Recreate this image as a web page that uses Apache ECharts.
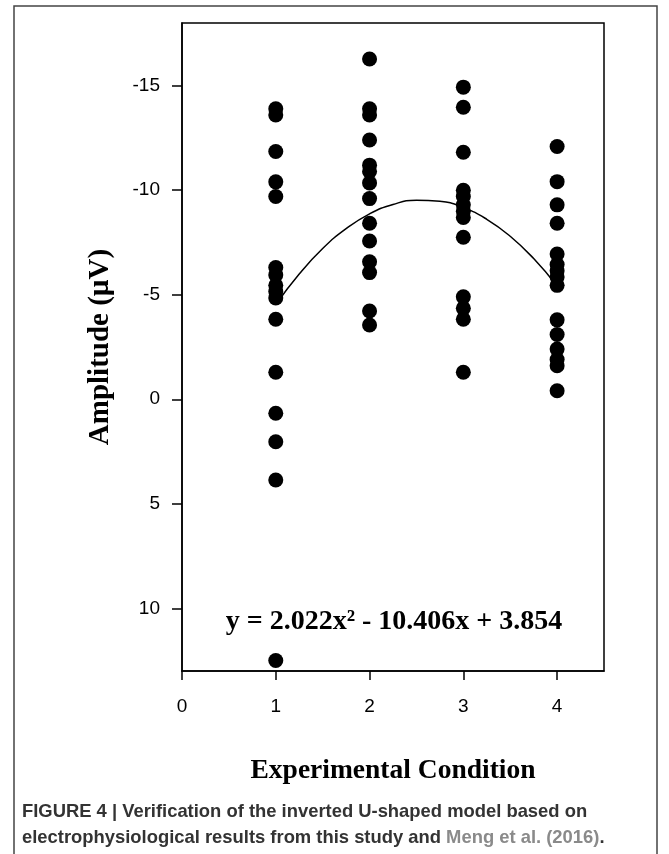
<!DOCTYPE html>
<html><head><meta charset="utf-8">
<script src="https://cdn.jsdelivr.net/npm/echarts@6/dist/echarts.min.js"></script>
<style>html,body{margin:0;padding:0;background:#fff}#c{width:669px;height:854px}</style>
</head><body><div id="c"></div>
<script>
// Experimental conditions (x positions)
const conditions = [1, 2, 3, 4];
// Amplitude values (µV) read per condition
const cond1 = [-13.9, -13.6, -11.85, -10.4, -9.7, -6.3, -5.95, -5.45, -5.15, -4.85, -3.83, -1.29, 0.67, 2.03, 3.86, 12.5];
const cond2 = [-16.28, -13.9, -13.6, -12.4, -11.2, -10.9, -10.35, -9.6, -8.42, -7.57, -6.58, -6.06, -4.22, -3.55];
const cond3 = [-14.93, -13.97, -11.82, -10.0, -9.7, -9.3, -9.0, -8.7, -7.75, -4.9, -4.35, -3.83, -1.29];
const cond4 = [-12.09, -10.41, -9.3, -8.42, -6.95, -6.45, -6.15, -5.85, -5.45, -3.8, -3.1, -2.4, -1.9, -1.6, -0.41];
// Fitted curve points
const fitX = [1, 1.25, 1.5, 1.75, 2, 2.25, 2.5, 2.75, 3, 3.25, 3.5, 3.75, 4];
const fitY = [-4.53, -5.99, -7.21, -8.16, -8.87, -9.32, -9.52, -9.47, -9.17, -8.61, -7.80, -6.73, -5.42];
// Tick labels
const yTicks = [-15, -10, -5, 0, 5, 10];
const xTicks = [0, 1, 2, 3, 4];
const equationText = 'y = 2.022x\u00B2 - 10.406x + 3.854';

const allConds = [cond1, cond2, cond3, cond4];
const scatterData = [];
allConds.forEach((arr, i) => arr.forEach(v => scatterData.push([conditions[i], v])));
const fitData = fitX.map((x, i) => [x, fitY[i]]);

const chart = echarts.init(document.getElementById('c'), null, {renderer: 'canvas'});
const serif = "'Liberation Serif', 'Times New Roman', serif";
const sans = "'Liberation Sans', Arial, sans-serif";
chart.setOption({
  backgroundColor: '#fff',
  animation: false,
  grid: {left: 182, top: 23, width: 422, height: 648, show: true, borderColor: '#000', borderWidth: 1.5, backgroundColor: 'transparent'},
  xAxis: {
    type: 'value', min: 0, max: 4.5,
    name: 'Experimental Condition', nameLocation: 'middle', nameGap: 86,
    nameTextStyle: {fontFamily: serif, fontWeight: 'bold', fontSize: 27.5, color: '#000'},
    axisLine: {show: true, onZero: false, lineStyle: {color: '#000', width: 1.5}},
    axisTick: {show: true, customValues: xTicks, length: 9, lineStyle: {color: '#000', width: 1.5}},
    axisLabel: {customValues: xTicks, margin: 26, fontFamily: sans, fontSize: 19, color: '#000'},
    splitLine: {show: false}
  },
  yAxis: {
    type: 'value', min: -18, max: 13, inverse: true,
    name: 'Amplitude (\u00B5V)', nameLocation: 'middle', nameGap: 67,
    nameTextStyle: {fontFamily: serif, fontWeight: 'bold', fontSize: 29, color: '#000'},
    axisLine: {show: true, onZero: false, lineStyle: {color: '#000', width: 1.5}},
    axisTick: {show: true, customValues: yTicks, length: 10, lineStyle: {color: '#000', width: 1.5}},
    axisLabel: {customValues: yTicks, margin: 22, fontFamily: sans, fontSize: 19, color: '#000'},
    splitLine: {show: false}
  },
  series: [
    {type: 'line', data: fitData, smooth: true, symbol: 'none', lineStyle: {color: '#000', width: 1.5}, z: 2},
    {type: 'scatter', data: scatterData, symbol: 'circle', symbolSize: 15, itemStyle: {color: '#000', opacity: 1}, z: 3}
  ],
  graphic: [
    {type: 'rect', shape: {x: 14, y: 6, width: 643, height: 870}, style: {fill: 'none', stroke: '#444', lineWidth: 1.5}, silent: true},
    {type: 'text', x: 394, y: 622, style: {text: equationText, font: "bold 28px 'Liberation Serif', serif", fill: '#000', textAlign: 'center', textVerticalAlign: 'middle'}},
    {type: 'text', x: 22, y: 799, style: {
      text: '{a|FIGURE 4 | Verification of the inverted U-shaped model based on}\n{a|electrophysiological results from this study and }{b|Meng et al. (2016)}{a|.}',
      rich: {
        a: {fontFamily: sans, fontWeight: 'bold', fontSize: 18.4, fill: '#333', lineHeight: 26},
        b: {fontFamily: sans, fontWeight: 'bold', fontSize: 18.4, fill: '#8a8a8a', lineHeight: 26}
      }
    }}
  ]
});
</script></body></html>
